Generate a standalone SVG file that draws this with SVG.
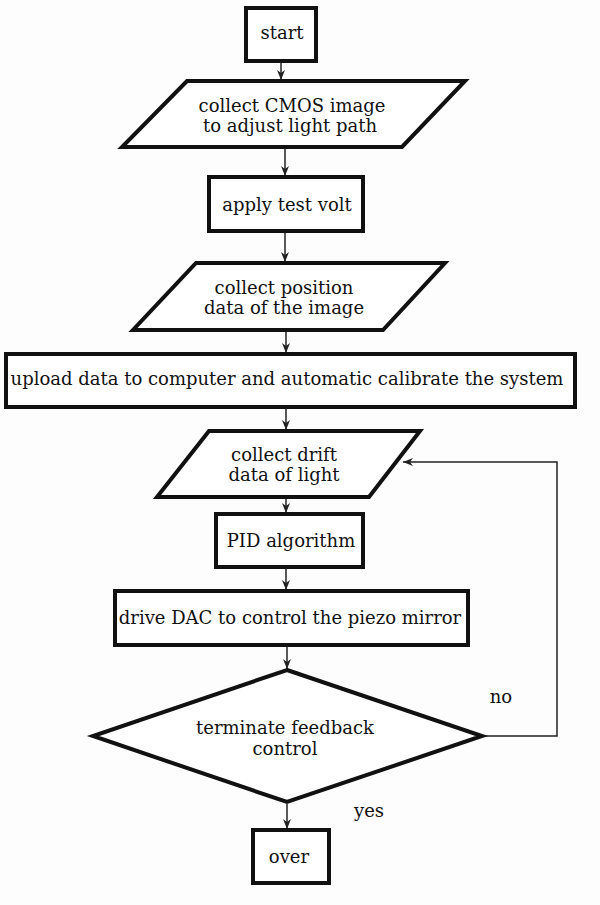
<svg xmlns="http://www.w3.org/2000/svg" width="600" height="905" viewBox="0 0 600 905">
  <style>
    .box { fill: #ffffff; stroke: #111111; stroke-width: 4; stroke-linejoin: miter; }
    .lbl { font-family: "DejaVu Serif", "Liberation Serif", serif; font-size: 18px; fill: #111111; text-anchor: middle; }
    .edge { fill: none; stroke: #222222; stroke-width: 1.5; }
  </style>
  <defs>
    <marker id="arrow" viewBox="0 0 10 8" refX="10" refY="4" markerWidth="10" markerHeight="8" markerUnits="userSpaceOnUse" orient="auto">
      <path d="M0,0 L10,4 L0,8 L3,4 z" fill="#222222"/>
    </marker>
  </defs>
  <rect width="600" height="905" fill="#fdfdfd"/>

  <!-- connectors -->
  <g id="connectors">
    <line class="edge" x1="281" y1="63" x2="281" y2="80" marker-end="url(#arrow)"/>
    <line class="edge" x1="285" y1="149" x2="285" y2="176" marker-end="url(#arrow)"/>
    <line class="edge" x1="285" y1="233" x2="285" y2="262" marker-end="url(#arrow)"/>
    <line class="edge" x1="286" y1="332" x2="286" y2="353" marker-end="url(#arrow)"/>
    <line class="edge" x1="286" y1="409" x2="286" y2="430" marker-end="url(#arrow)"/>
    <line class="edge" x1="286" y1="499" x2="286" y2="513" marker-end="url(#arrow)"/>
    <line class="edge" x1="286" y1="569" x2="286" y2="590" marker-end="url(#arrow)"/>
    <line class="edge" x1="287" y1="647" x2="287" y2="669" marker-end="url(#arrow)"/>
    <line class="edge" x1="287" y1="804" x2="287" y2="829" marker-end="url(#arrow)"/>
    <!-- loop back when feedback continues -->
    <polyline class="edge" points="482,736 557,736 557,462 403,462" marker-end="url(#arrow)"/>
    <text class="lbl" x="501" y="703">no</text>
    <text class="lbl" x="369" y="817">yes</text>
  </g>

  <g id="start">
    <rect class="box" x="246" y="8" width="70" height="53"/>
    <text class="lbl" x="282" y="39">start</text>
  </g>

  <g id="collect-cmos">
    <polygon class="box" points="187,81 465,81 402,147 122,147"/>
    <text class="lbl" x="292" y="112">collect CMOS image</text>
    <text class="lbl" x="290" y="132">to adjust light path</text>
  </g>

  <g id="apply-volt">
    <rect class="box" x="209" y="177" width="154" height="54"/>
    <text class="lbl" x="287" y="211">apply test volt</text>
  </g>

  <g id="collect-position">
    <polygon class="box" points="196,263 445,263 383,330 133,330"/>
    <text class="lbl" x="284" y="294">collect position</text>
    <text class="lbl" x="284" y="314">data of the image</text>
  </g>

  <g id="upload">
    <rect class="box" x="6" y="354" width="569" height="53"/>
    <text class="lbl" x="287" y="385">upload data to computer and automatic calibrate the system</text>
  </g>

  <g id="collect-drift">
    <polygon class="box" points="209,431 420,431 369,497 157,497"/>
    <text class="lbl" x="284" y="461">collect drift</text>
    <text class="lbl" x="284" y="481">data of light</text>
  </g>

  <g id="pid">
    <rect class="box" x="216" y="514" width="147" height="53"/>
    <text class="lbl" x="291" y="547">PID algorithm</text>
  </g>

  <g id="drive-dac">
    <rect class="box" x="115" y="591" width="353" height="54"/>
    <text class="lbl" x="290" y="624">drive DAC to control the piezo mirror</text>
  </g>

  <g id="terminate">
    <polygon class="box" points="287,670 482,736 287,802 93,736"/>
    <text class="lbl" x="285" y="734">terminate feedback</text>
    <text class="lbl" x="285" y="755">control</text>
  </g>

  <g id="over">
    <rect class="box" x="253" y="830" width="76" height="53"/>
    <text class="lbl" x="289" y="863">over</text>
  </g>
</svg>
